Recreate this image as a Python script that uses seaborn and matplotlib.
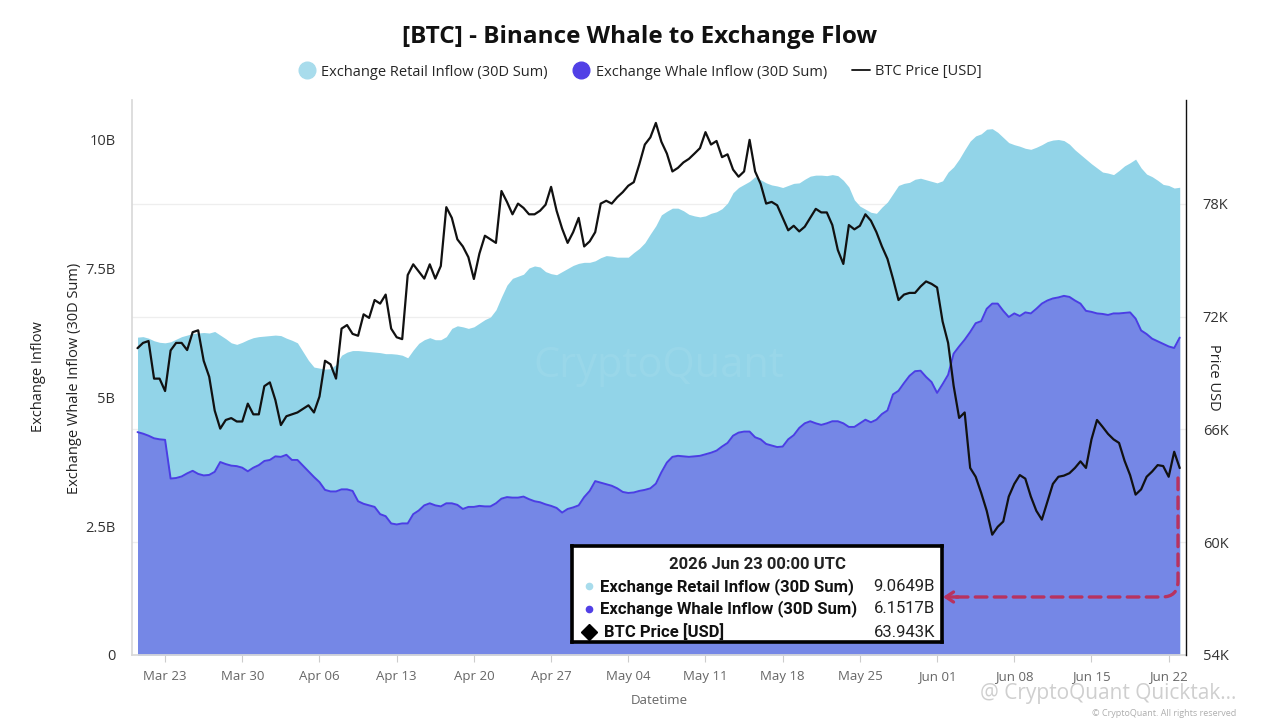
import pandas as pd
import matplotlib
matplotlib.use("Agg")
import matplotlib.pyplot as plt
import matplotlib.dates as mdates
from matplotlib.lines import Line2D
from matplotlib.ticker import FuncFormatter
import seaborn as sns

# 12-hourly readings, 2026-03-20 12:00 .. 2026-06-23 00:00
retail_b = [
    6.16, 6.17, 6.14, 6.09, 6.06, 6.05, 6.07, 6.12, 6.17, 6.20,
    6.23, 6.24, 6.25, 6.24, 6.27, 6.20, 6.13, 6.05, 6.02, 6.06,
    6.11, 6.15, 6.17, 6.18, 6.19, 6.20, 6.19, 6.14, 6.10, 6.05,
    5.88, 5.71, 5.58, 5.56, 5.54, 5.55, 5.63, 5.81, 5.87, 5.90,
    5.90, 5.89, 5.88, 5.87, 5.86, 5.84, 5.84, 5.83, 5.81, 5.76,
    5.91, 6.04, 6.11, 6.15, 6.11, 6.11, 6.17, 6.33, 6.38, 6.36,
    6.33, 6.36, 6.43, 6.50, 6.55, 6.69, 6.94, 7.17, 7.30, 7.34,
    7.38, 7.50, 7.54, 7.52, 7.43, 7.39, 7.37, 7.43, 7.49, 7.55,
    7.59, 7.61, 7.61, 7.64, 7.70, 7.74, 7.73, 7.71, 7.71, 7.71,
    7.80, 7.88, 7.99, 8.16, 8.32, 8.53, 8.60, 8.66, 8.66, 8.61,
    8.54, 8.51, 8.49, 8.51, 8.56, 8.59, 8.65, 8.76, 8.96, 9.06,
    9.12, 9.18, 9.27, 9.21, 9.15, 9.11, 9.09, 9.06, 9.10, 9.14,
    9.15, 9.22, 9.28, 9.30, 9.30, 9.29, 9.31, 9.29, 9.20, 9.07,
    8.82, 8.70, 8.64, 8.58, 8.56, 8.68, 8.78, 8.94, 9.10, 9.14,
    9.16, 9.22, 9.24, 9.21, 9.18, 9.15, 9.19, 9.36, 9.46, 9.61,
    9.79, 9.96, 10.06, 10.10, 10.19, 10.20, 10.13, 10.03, 9.93, 9.89,
    9.86, 9.82, 9.80, 9.84, 9.89, 9.95, 9.98, 9.99, 9.97, 9.90,
    9.79, 9.70, 9.61, 9.52, 9.44, 9.36, 9.34, 9.31, 9.39, 9.48,
    9.54, 9.61, 9.44, 9.32, 9.27, 9.20, 9.12, 9.10, 9.05, 9.0649,
]

whale_b = [
    4.32, 4.29, 4.25, 4.20, 4.18, 4.17, 3.42, 3.43, 3.46, 3.52,
    3.57, 3.51, 3.48, 3.49, 3.55, 3.74, 3.70, 3.67, 3.66, 3.63,
    3.56, 3.63, 3.68, 3.76, 3.78, 3.85, 3.84, 3.88, 3.78, 3.78,
    3.67, 3.56, 3.45, 3.35, 3.20, 3.17, 3.17, 3.21, 3.21, 3.18,
    2.98, 2.93, 2.90, 2.87, 2.73, 2.69, 2.55, 2.53, 2.55, 2.55,
    2.73, 2.80, 2.90, 2.94, 2.90, 2.88, 2.94, 2.94, 2.91, 2.83,
    2.87, 2.87, 2.89, 2.88, 2.88, 2.94, 3.03, 3.06, 3.05, 3.05,
    3.07, 3.02, 2.98, 2.96, 2.92, 2.89, 2.85, 2.76, 2.83, 2.86,
    2.90, 3.06, 3.18, 3.37, 3.34, 3.31, 3.28, 3.23, 3.16, 3.14,
    3.15, 3.18, 3.20, 3.23, 3.32, 3.54, 3.73, 3.84, 3.86, 3.85,
    3.84, 3.85, 3.86, 3.89, 3.92, 3.96, 4.04, 4.11, 4.25, 4.31,
    4.33, 4.33, 4.22, 4.18, 4.09, 4.06, 4.03, 4.04, 4.18, 4.26,
    4.40, 4.49, 4.53, 4.49, 4.46, 4.49, 4.53, 4.53, 4.49, 4.42,
    4.42, 4.49, 4.56, 4.51, 4.56, 4.67, 4.74, 5.05, 5.12, 5.27,
    5.41, 5.50, 5.51, 5.39, 5.29, 5.08, 5.25, 5.43, 5.84, 5.98,
    6.11, 6.26, 6.43, 6.47, 6.71, 6.81, 6.81, 6.67, 6.55, 6.62,
    6.57, 6.64, 6.62, 6.71, 6.81, 6.87, 6.91, 6.93, 6.96, 6.94,
    6.87, 6.81, 6.67, 6.65, 6.62, 6.61, 6.59, 6.62, 6.62, 6.63,
    6.64, 6.52, 6.29, 6.22, 6.13, 6.08, 6.03, 5.98, 5.95, 6.1517,
]

price_k = [
    70.32, 70.60, 70.70, 68.70, 68.70, 68.04, 70.20, 70.60, 70.60, 70.22,
    71.17, 71.27, 69.65, 68.80, 67.00, 66.04, 66.50, 66.60, 66.42, 66.42,
    67.37, 66.80, 66.80, 68.30, 68.50, 67.56, 66.23, 66.70, 66.80, 66.90,
    67.09, 67.28, 66.90, 67.75, 69.65, 69.46, 68.70, 71.36, 71.55, 71.08,
    70.98, 72.12, 71.93, 72.88, 72.69, 73.17, 71.36, 70.90, 70.80, 74.21,
    74.78, 74.40, 74.02, 74.78, 74.02, 74.69, 77.82, 77.25, 76.11, 75.73,
    75.16, 74.00, 75.35, 76.30, 76.11, 75.92, 78.68, 78.10, 77.44, 78.01,
    77.78, 77.44, 77.44, 77.63, 77.95, 78.90, 77.63, 76.68, 75.92, 76.49,
    77.25, 75.73, 76.00, 76.49, 78.01, 78.16, 78.01, 78.35, 78.62, 78.96,
    79.15, 80.10, 81.15, 81.53, 82.30, 81.30, 80.67, 79.72, 79.91, 80.20,
    80.39, 80.67, 80.96, 81.81, 81.15, 81.34, 80.48, 80.63, 79.82, 79.44,
    79.72, 81.40, 79.72, 79.06, 78.01, 78.10, 77.92, 77.25, 76.59, 76.83,
    76.53, 76.78, 77.25, 77.73, 77.54, 77.54, 76.87, 75.54, 74.80, 76.87,
    76.64, 76.83, 77.44, 77.10, 76.49, 75.73, 75.07, 74.02, 72.88, 73.17,
    73.26, 73.26, 73.60, 73.87, 73.74, 73.55, 71.74, 70.60, 68.32, 66.61,
    66.90, 63.95, 63.48, 62.62, 61.67, 60.40, 60.82, 61.10, 62.43, 63.10,
    63.57, 63.38, 62.43, 61.67, 61.20, 62.15, 63.10, 63.48, 63.54, 63.67,
    63.95, 64.30, 63.95, 65.47, 66.50, 66.14, 65.76, 65.47, 65.28, 64.33,
    63.57, 62.53, 62.81, 63.48, 63.76, 64.10, 64.05, 63.48, 64.81, 63.943,
]

series_names = ["Exchange Retail Inflow (30D Sum)", "Exchange Whale Inflow (30D Sum)", "BTC Price [USD]"]
left_ticks = [0, 2.5, 5, 7.5, 10]
right_ticks = [54, 60, 66, 72, 78]
tip_title = "2026 Jun 23 00:00 UTC"
tip_values = ["9.0649B", "6.1517B", "63.943K"]

dates = pd.date_range("2026-03-20 12:00", periods=len(price_k), freq="12h")
df = pd.DataFrame({"date": dates, "retail": retail_b, "whale": whale_b, "price": price_k})

RETAIL = "#92d4e8"
WHALE_FILL = "#7587e6"
WHALE_LINE = "#4b3ee4"
LEFT_LIM = (0, 10.756)
RIGHT_LIM = (54, 83.52)

sns.set_theme(style="white")
plt.rcParams["font.family"] = ["Open Sans", "DejaVu Sans"]

fig = plt.figure(figsize=(12.8, 7.2), dpi=100)
ax = fig.add_axes([132 / 1280, 1 - 655 / 720, (1186 - 132) / 1280, (655 - 100) / 720])

# areas (overlapping, not stacked)
ax.fill_between(df["date"], 0, df["retail"], color=RETAIL, lw=0, zorder=2)
ax.fill_between(df["date"], 0, df["whale"], color=WHALE_FILL, lw=0, zorder=2)
sns.lineplot(data=df, x="date", y="whale", ax=ax, color=WHALE_LINE, lw=1.4, legend=False, zorder=3)

ax.set_xlim(pd.Timestamp("2026-03-20 00:00"), pd.Timestamp("2026-03-20 00:00") + pd.Timedelta(days=95.57))
ax.set_ylim(*LEFT_LIM)
ax.set_yticks(left_ticks)
# faint grid at the price ticks, kept behind the areas
scale = (LEFT_LIM[1] - LEFT_LIM[0]) / (RIGHT_LIM[1] - RIGHT_LIM[0])
ax.set_yticks([(t - RIGHT_LIM[0]) * scale for t in right_ticks[1:]], minor=True)
ax.tick_params(axis="y", which="minor", length=0)
ax.grid(axis="y", which="minor", color="#eeeeee", lw=0.9, zorder=0)
ax.set_axisbelow(True)
ax.yaxis.set_major_formatter(FuncFormatter(lambda v, p: "0" if v == 0 else f"{v:g}B"))
ax.xaxis.set_major_locator(mdates.WeekdayLocator(byweekday=mdates.MO))
ax.xaxis.set_major_formatter(mdates.DateFormatter("%b %d"))
ax.tick_params(axis="y", length=0, pad=12, labelsize=10.5, labelcolor="#333333")
ax.tick_params(axis="x", length=5, width=0.8, color="#cccccc", pad=6, labelsize=9.5, labelcolor="#666666", bottom=True)
ax.set_xlabel("Datetime", color="#666666", fontsize=9.5, labelpad=8)
ax.set_ylabel("")
for s in ["top", "right"]:
    ax.spines[s].set_visible(False)
ax.spines["left"].set_color("#d9d9d9")
ax.spines["bottom"].set_color("#d9d9d9")

ax2 = ax.twinx()
sns.lineplot(data=df, x="date", y="price", ax=ax2, color="#111111", lw=1.6, legend=False)
ax2.set_ylim(*RIGHT_LIM)
ax2.set_yticks(right_ticks)
ax2.yaxis.set_major_formatter(FuncFormatter(lambda v, p: f"{v:.0f}K"))
ax2.tick_params(axis="y", length=0, pad=12, labelsize=10.5, labelcolor="#333333")
ax2.set_ylabel("")
ax2.set_xlabel("")
for s in ["top", "left", "bottom"]:
    ax2.spines[s].set_visible(False)
ax2.spines["right"].set_color("#111111")
ax2.spines["right"].set_linewidth(1.0)

# faint centre watermark
ax2.text(0.5, 0.52, "CryptoQuant", transform=ax2.transAxes, ha="center", va="center",
         fontsize=30, color="white", alpha=0.07)

# axis titles
fig.text(38 / 1280, 1 - 377 / 720, "Exchange Inflow", rotation=90, ha="center", va="center",
         fontsize=10.5, color="#222222")
fig.text(75 / 1280, 1 - 378 / 720, "Exchange Whale Inflow (30D Sum)", rotation=90, ha="center",
         va="center", fontsize=10.5, color="#222222")
fig.text(1213 / 1280, 1 - 377 / 720, "Price USD", rotation=270, ha="center", va="center",
         fontsize=10.5, color="#222222")

# title and legend
fig.text(0.5, 1 - 37 / 720, "[BTC] - Binance Whale to Exchange Flow", ha="center", va="center",
         fontsize=17.5, weight="bold", color="#111111")
handles = [
    Line2D([], [], marker="o", ls="", color="#a8dcec", ms=12),
    Line2D([], [], marker="o", ls="", color="#5140e6", ms=12),
    Line2D([], [], color="#111111", lw=1.3),
]
fig.legend(handles, series_names, loc="center", bbox_to_anchor=(0.5, 1 - 72 / 720), ncol=3,
           frameon=False, fontsize=10.5, handlelength=1.2, handletextpad=0.4, columnspacing=1.7)

# dashed pointer to tooltip
ax2.annotate("", xy=(952, 123), xycoords="figure pixels", xytext=(1178, 242), textcoords="figure pixels",
             arrowprops=dict(arrowstyle="-", color="#b8325f", lw=2.4, ls=(0, (3.5, 2.2)),
                             connectionstyle="angle,angleA=90,angleB=0,rad=16", shrinkA=0, shrinkB=0))
ax2.annotate("", xy=(943, 123), xycoords="figure pixels", xytext=(958, 123), textcoords="figure pixels",
             arrowprops=dict(arrowstyle="->,head_length=0.45,head_width=0.3", color="#b8325f", lw=2.4,
                             shrinkA=0, shrinkB=0))

# tooltip box
tip = fig.add_axes([572 / 1280, 1 - 642 / 720, 370 / 1280, 96 / 720])
tip.set_facecolor("white")
tip.set_xticks([])
tip.set_yticks([])
tip.set_xlim(0, 1)
tip.set_ylim(0, 1)
for s in tip.spines.values():
    s.set_color("black")
    s.set_linewidth(2.6)
tf = ["Roboto", "DejaVu Sans"]
tip.text(0.5, 0.81, tip_title, ha="center", va="center", fontsize=12, weight="bold",
         family=tf, color="#222222")
rows_y = [0.583, 0.344, 0.104]
tip.plot(0.046, rows_y[0], marker="o", ms=4.5, color="#a8dcec")
tip.plot(0.046, rows_y[1], marker="o", ms=4.5, color="#5140e6")
tip.plot(0.046, rows_y[2], marker="D", ms=8.5, color="black")
for i, (name, val) in enumerate(zip(series_names, tip_values)):
    x0 = 0.086 if i == 2 else 0.076
    tip.text(x0, rows_y[i], name, ha="left", va="center", fontsize=12, weight="bold",
             family=tf, color="#111111")
    tip.text(0.981, rows_y[i], val, ha="right", va="center", fontsize=12, family=tf, color="#222222")

# bottom-right watermark
fig.text(980 / 1280, 1 - 693 / 720, "@ CryptoQuant Quicktak...", ha="left", va="center",
         fontsize=15, color="#cfcfcf")
fig.text(1092 / 1280, 1 - 713 / 720, "© CryptoQuant. All rights reserved", ha="left", va="center",
         fontsize=6.5, color="#9a9a9a", alpha=0.8)

fig.savefig("out.png", dpi=100)
